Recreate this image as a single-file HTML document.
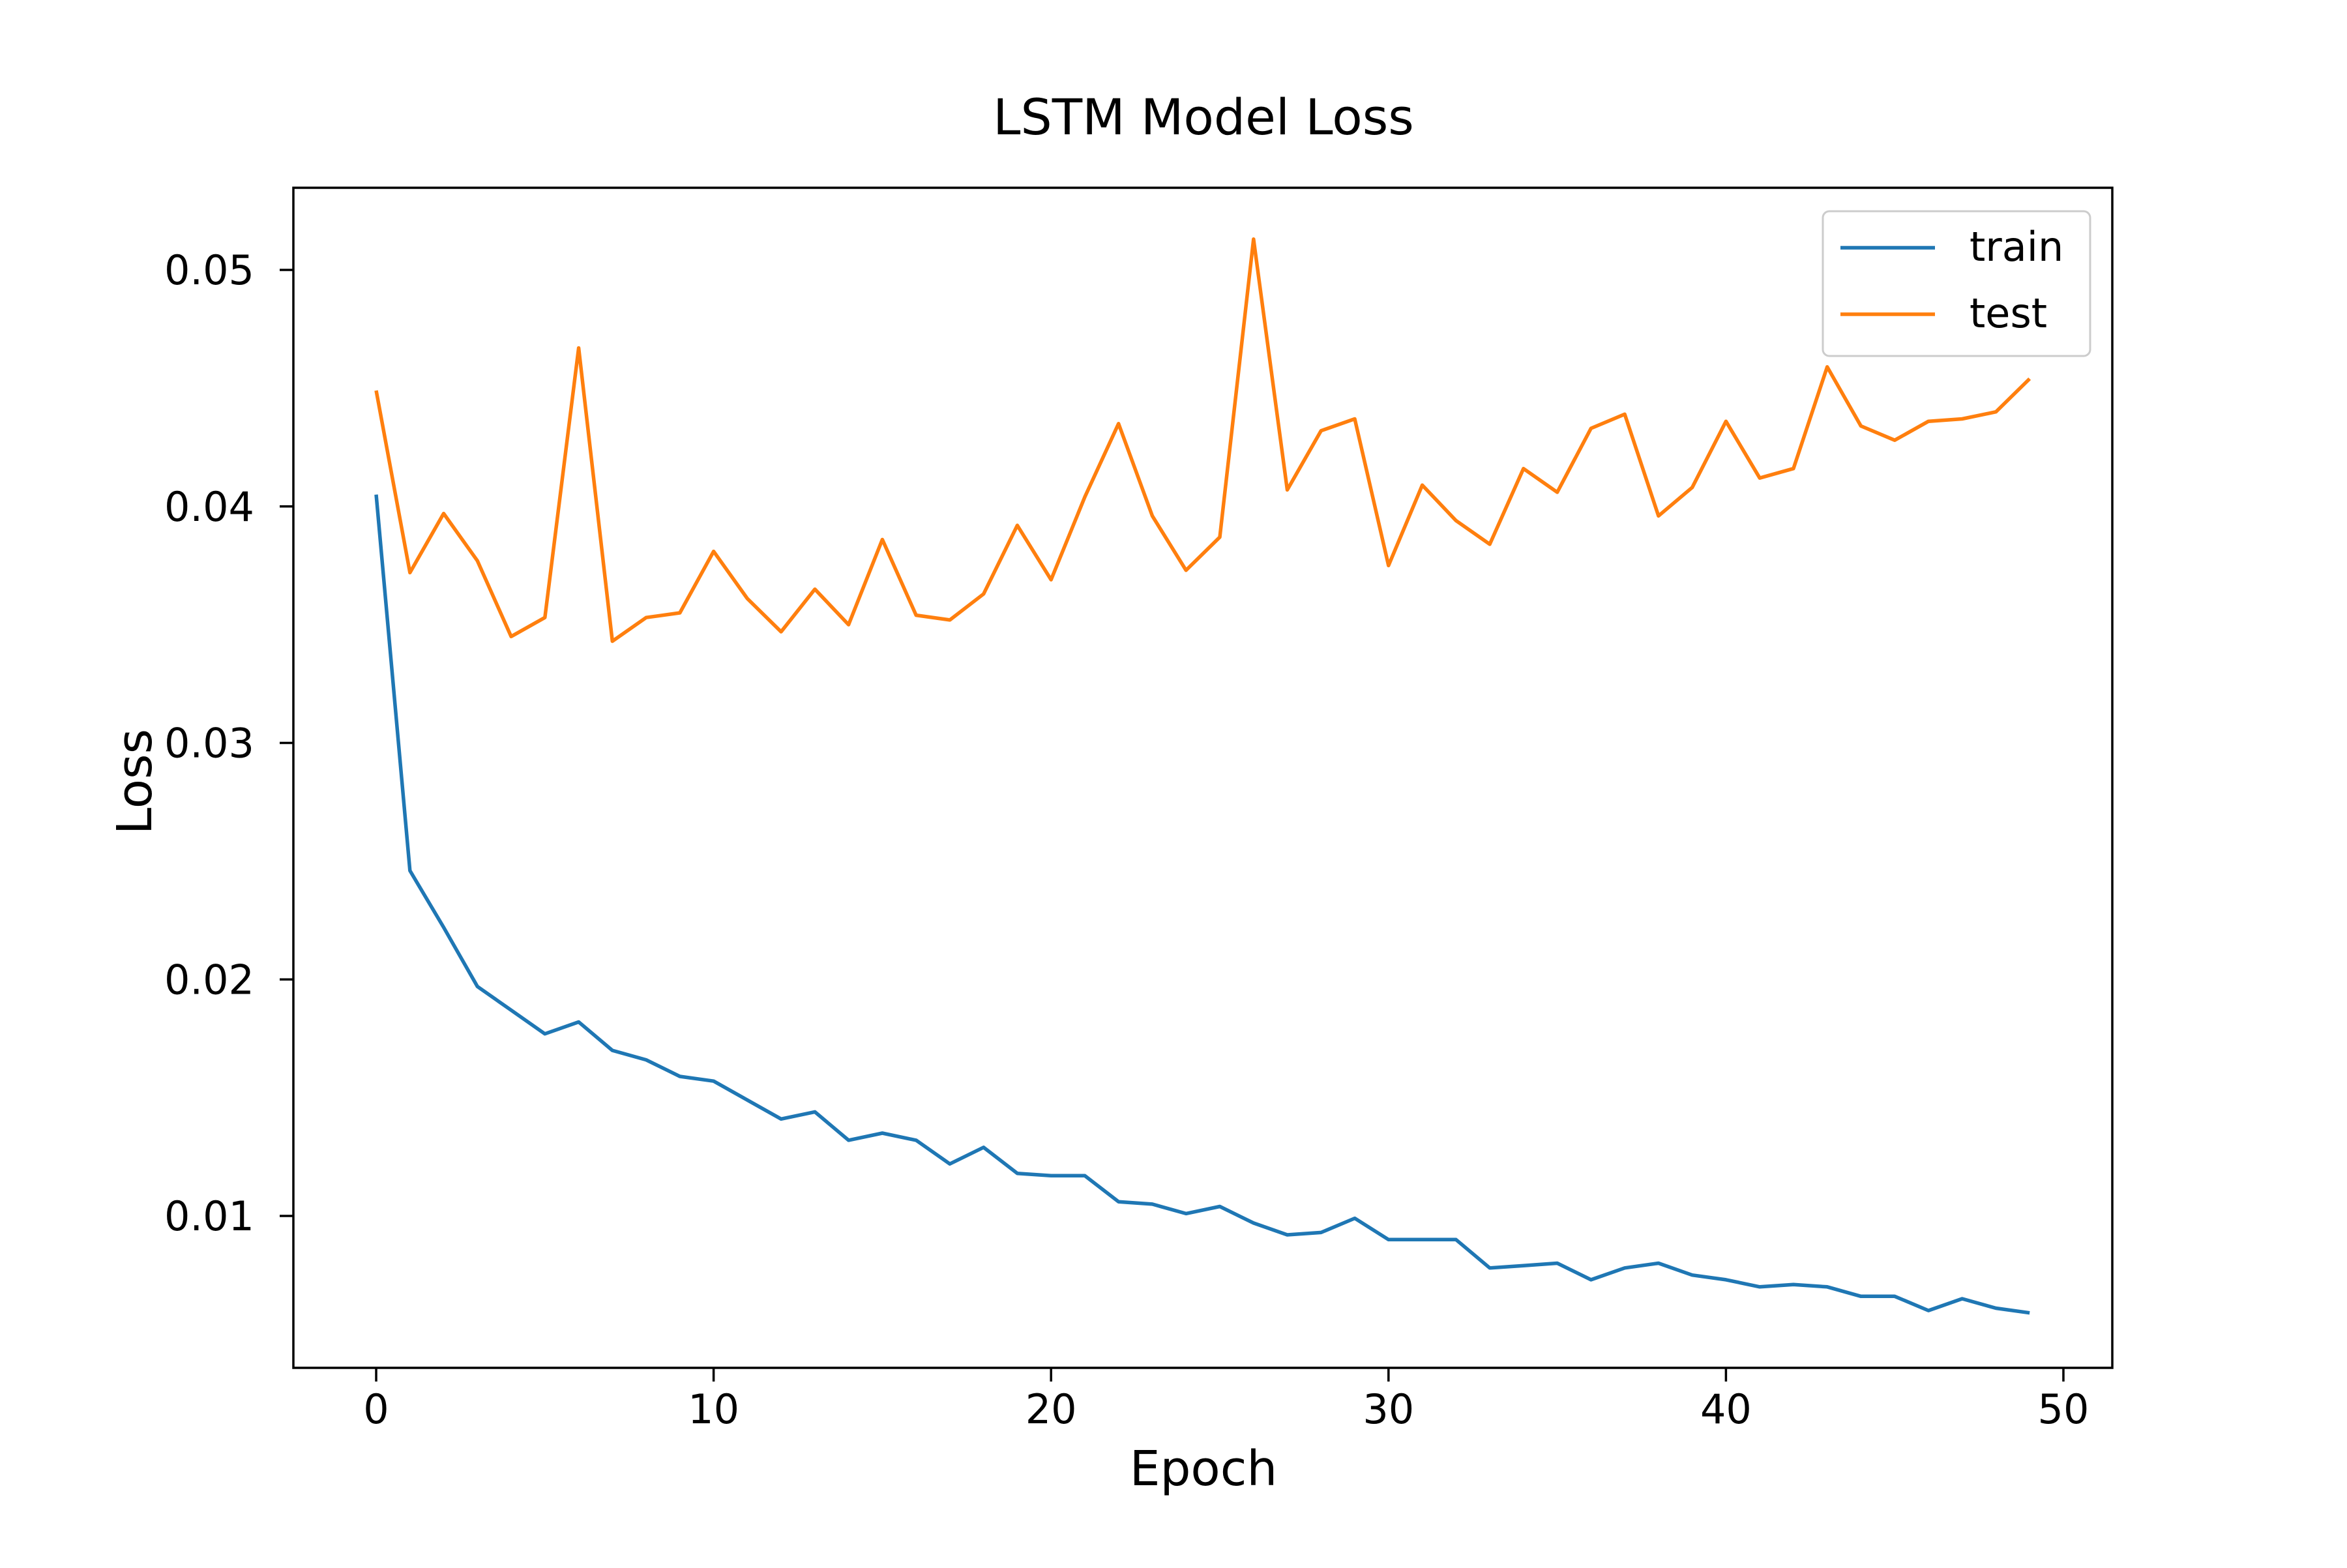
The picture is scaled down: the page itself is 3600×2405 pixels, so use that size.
<!DOCTYPE html>
<html><head><meta charset="utf-8"><style>
html,body{margin:0;padding:0;background:#fff;}
svg text{font-family:"DejaVu Sans","Liberation Sans",sans-serif;fill:#000;}
</style></head><body>
<svg id="chart" width="3600" height="2400" viewBox="0 0 3600 2400" xmlns="http://www.w3.org/2000/svg">
<rect width="3600" height="2400" fill="#fff"/>
<text x="1846" y="206" font-size="76" text-anchor="middle">LSTM Model Loss</text>
<g id="plot"></g>
<rect x="450" y="288" width="2790" height="1810" fill="none" stroke="#000" stroke-width="3.5"/>
<text x="1846" y="2278" font-size="74" text-anchor="middle">Epoch</text>
<text x="0" y="0" font-size="74" text-anchor="middle" transform="translate(232,1199) rotate(-90)">Loss</text>
<g>
<rect x="2796" y="324" width="410" height="222" rx="10" fill="#fff" fill-opacity="0.8" stroke="#cccccc" stroke-width="3"/>
<line x1="2823" y1="380" x2="2968" y2="380" stroke="#1f77b4" stroke-width="5.5"/>
<text x="3021" y="400" font-size="62">train</text>
<line x1="2823" y1="482" x2="2968" y2="482" stroke="#ff7f0e" stroke-width="5.5"/>
<text x="3021" y="502" font-size="62">test</text>
</g>
</svg>
<script>
const epochs = Array.from({length:50},(_,i)=>i);
const trainLoss = [0.0405,0.0246,0.0222,0.0197,0.0187,0.0177,0.0182,0.0170,0.0166,0.0159,
0.0157,0.0149,0.0141,0.0144,0.0132,0.0135,0.0132,0.0122,0.0129,0.0118,
0.0117,0.0117,0.0106,0.0105,0.0101,0.0104,0.0097,0.0092,0.0093,0.0099,
0.0090,0.0090,0.0090,0.0078,0.0079,0.0080,0.0073,0.0078,0.0080,0.0075,
0.0073,0.0070,0.0071,0.0070,0.0066,0.0066,0.0060,0.0065,0.0061,0.0059];
const testLoss = [0.0449,0.0372,0.0397,0.0377,0.0345,0.0353,0.0467,0.0343,0.0353,0.0355,
0.0381,0.0361,0.0347,0.0365,0.0350,0.0386,0.0354,0.0352,0.0363,0.0392,
0.0369,0.0404,0.0435,0.0396,0.0373,0.0387,0.0513,0.0407,0.0432,0.0437,
0.0375,0.0409,0.0394,0.0384,0.0416,0.0406,0.0433,0.0439,0.0396,0.0408,
0.0436,0.0412,0.0416,0.0459,0.0434,0.0428,0.0436,0.0437,0.0440,0.0454];
const xTicks = [0,10,20,30,40,50];
const yTicks = [0.01,0.02,0.03,0.04,0.05];
const yTickLabels = ["0.01","0.02","0.03","0.04","0.05"];

function xs(e){return 577 + (e-0)*(3165-577)/50;}
function ys(v){return 1865 - (v-0.01)*(1865-414)/0.04;}
const NS="http://www.w3.org/2000/svg";
const g=document.getElementById('plot');
function mk(t,a){const el=document.createElementNS(NS,t);for(const k in a)el.setAttribute(k,a[k]);g.appendChild(el);return el;}

xTicks.forEach(t=>{
  const l=mk('line',{x1:xs(t),x2:xs(t),y1:2098,y2:2119,stroke:'#000','stroke-width':3.5});
  
  
  const tx=mk('text',{x:xs(t),y:2183,'font-size':62,'text-anchor':'middle'});
  tx.textContent=String(t);
  
  
});
yTicks.forEach((t,i)=>{
  const l=mk('line',{x1:429,x2:450,y1:ys(t),y2:ys(t),stroke:'#000','stroke-width':3.5});
  
  
  const tx=mk('text',{x:390,y:ys(t)+22,'font-size':62,'text-anchor':'end'});
  tx.textContent=yTickLabels[i];
  
  
});
function line(vals,color,name){
  const pts=vals.map((v,i)=>xs(epochs[i]).toFixed(1)+','+ys(v).toFixed(1)).join(' ');
  const p=mk('polyline',{points:pts,fill:'none',stroke:color,'stroke-width':5.5,'stroke-linejoin':'round'});
  
  
}
line(trainLoss,'#1f77b4','train-line');
line(testLoss,'#ff7f0e','test-line');
</script>
</body></html>
